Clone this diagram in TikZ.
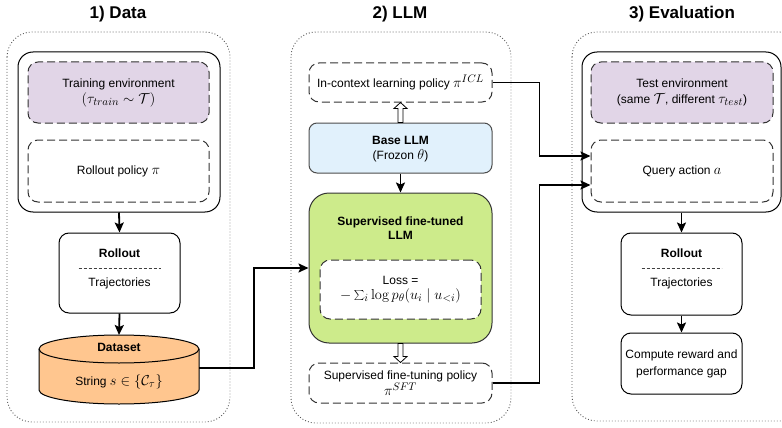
\documentclass[tikz,border=0pt]{standalone}
\usepackage[no-math]{fontspec}
\setmainfont{Liberation Sans}
\DeclareMathSizes{12}{14.4}{10.5}{8}
\usetikzlibrary{arrows.meta,calc}
\definecolor{purp}{HTML}{E1D5E7}
\definecolor{bluef}{HTML}{E1F1FC}
\definecolor{greenf}{HTML}{CDEB8B}
\definecolor{orangef}{HTML}{FFC68F}
\definecolor{dotc}{HTML}{555555}
\tikzset{
  txt/.style={font=\fontsize{12}{15}\selectfont, align=center, inner sep=0pt},
  ttl/.style={font=\fontsize{17}{20}\bfseries, inner sep=0pt},
  outerbox/.style={draw=dotc, line width=0.9pt, dash pattern=on 0.9pt off 2.1pt, rounded corners=25pt},
  dbox/.style={draw=black!80, line width=1pt, dash pattern=on 8pt off 4pt, rounded corners=10pt, inner sep=0pt},
  rbox/.style={draw=black, line width=1pt, rounded corners=10pt, inner sep=0pt, fill=white},
  sep/.style={draw=black!75, line width=0.7pt, dash pattern=on 3pt off 2pt},
  conn/.style={draw=black, line width=1.8pt, -{Stealth[length=10pt,width=9pt,inset=2pt]}},
  hollow/.style={draw=black, line width=0.8pt, fill=white},
}
\begin{document}
\begin{tikzpicture}[x=1pt,y=-1pt]
\useasboundingbox (0,0) rectangle (782,428);

% titles
\node[ttl] (t1) at (118,14) {1) Data};
\node[ttl] (t2) at (400,14) {2) LLM};
\node[ttl] (t3) at (682,14) {3) Evaluation};

% outer dotted containers
\draw[outerbox] (7,32) rectangle (230,422);
\draw[outerbox] (291,32) rectangle (511,423);
\draw[outerbox] (572,32) rectangle (805,421);

% ---------------- Data ----------------
\node[rbox, rounded corners=15pt, minimum width=202pt, minimum height=160pt] (env1) at (119,132) {};
\node[dbox, fill=purp, minimum width=181pt, minimum height=61pt, txt] (train) at (118.5,92.5)
  {Training environment\\[1pt] $(\tau_{train}\sim\mathcal{T})$};
\node[dbox, fill=white, minimum width=181pt, minimum height=62pt, txt] (rpol) at (118.5,171)
  {Rollout policy $\pi$};
\node[rbox, minimum width=121pt, minimum height=80pt] (ro1) at (119.5,273) {};
\node[txt, font=\fontsize{12}{15}\bfseries] (ro1t) at (119.5,253) {Rollout};
\node[txt] (ro1b) at (119.5,283) {Trajectories};
\draw[sep] ([xshift=-41pt,yshift=5pt]ro1.center) -- ([xshift=41pt,yshift=5pt]ro1.center);

% cylinder
\path[fill=orangef, draw=black, line width=1pt] (39,349) -- (39,390)
  arc[start angle=180, end angle=360, x radius=80pt, y radius=14pt] -- (199,349)
  arc[start angle=0, end angle=180, x radius=80pt, y radius=14pt] -- cycle;
\draw[line width=1pt] (39,349) arc[start angle=180, end angle=360, x radius=80pt, y radius=14pt];
\node[inner sep=0pt, minimum width=160pt, minimum height=40pt] (ds) at (119,368) {};
\coordinate (dstop) at (119,335);
\node[txt, font=\fontsize{12}{15}\bfseries] (dst) at (119,347) {Dataset};
\node[txt] (dsb) at (119,382) {String $s\in\{\mathcal{C}_\tau\}$};

\draw[conn] (env1.south) -- (ro1.north);
\draw[conn] (ro1.south) -- (dstop);

% ---------------- LLM ----------------
\node[dbox, fill=white, minimum width=183pt, minimum height=39pt, txt] (icl) at (400.5,82.5)
  {In-context learning policy $\pi^{ICL}$};
\node[rbox, rounded corners=8pt, draw=black!70, fill=bluef, minimum width=183pt, minimum height=50pt] (base) at (400.5,148) {};
\node[txt, font=\fontsize{12}{15}\bfseries] (baset) at (400.5,140) {Base LLM};
\node[txt] (baseb) at (400.5,156) {(Frozon $\theta$)};
\node[rbox, rounded corners=20pt, draw=black!80, fill=greenf, minimum width=183pt, minimum height=150pt] (sft) at (400.5,268) {};
\node[txt, font=\fontsize{12}{14}\bfseries] (sftt) at (400.5,228) {Supervised fine-tuned\\LLM};
\node[dbox, fill=white, minimum width=161pt, minimum height=59pt, txt] (loss) at (400.5,289.5)
  {Loss =\\ $-\sum_i \log p_\theta(u_i \mid u_{<i})$};
\node[dbox, fill=white, minimum width=183pt, minimum height=40pt, txt, font=\fontsize{12}{13}\selectfont] (sftp) at (400.5,383)
  {Supervised fine-tuning policy\\ $\pi^{SFT}$};

\draw[conn] (base.south) -- (sft.north);
% hollow arrows
\draw[hollow] ([xshift=-2.5pt]base.north) -- ([xshift=-2.5pt,yshift=-6pt]icl.south)
  -- ([xshift=-6.5pt,yshift=-6pt]icl.south) -- (icl.south)
  -- ([xshift=6.5pt,yshift=-6pt]icl.south) -- ([xshift=2.5pt,yshift=-6pt]icl.south)
  -- ([xshift=2.5pt]base.north) -- cycle;
\draw[hollow] ([xshift=-2.5pt]sft.south) -- ([xshift=-2.5pt,yshift=6pt]sftp.north)
  -- ([xshift=-6.5pt,yshift=6pt]sftp.north) -- (sftp.north)
  -- ([xshift=6.5pt,yshift=6pt]sftp.north) -- ([xshift=2.5pt,yshift=6pt]sftp.north)
  -- ([xshift=2.5pt]sft.south) -- cycle;

% ---------------- Evaluation ----------------
\node[rbox, rounded corners=15pt, minimum width=199pt, minimum height=160pt] (env2) at (681.5,132) {};
\node[dbox, fill=purp, minimum width=182pt, minimum height=61pt, txt] (test) at (682,92.5)
  {Test environment\\[1pt] (same $\mathcal{T}$, different $\tau_{test}$)};
\node[dbox, fill=white, minimum width=182pt, minimum height=62pt, txt] (query) at (682,171)
  {Query action $a$};
\node[rbox, minimum width=121pt, minimum height=82pt] (ro2) at (681.5,274) {};
\node[txt, font=\fontsize{12}{15}\bfseries] (ro2t) at (681.5,253) {Rollout};
\node[txt] (ro2b) at (681.5,283) {Trajectories};
\draw[sep] ([xshift=-40pt,yshift=6pt]ro2.center) -- ([xshift=40pt,yshift=6pt]ro2.center);
\node[rbox, minimum width=121pt, minimum height=61pt, txt, font=\fontsize{12}{17}\selectfont] (comp) at (681.5,363.5)
  {Compute reward and\\performance gap};

\draw[conn] (env2.south) -- (ro2.north);
\draw[conn] (ro2.south) -- (comp.north);

% ---------------- cross connectors ----------------
\draw[conn] (ds.east) -- ([xshift=55pt]ds.east) |- (sft.west);
\draw[conn] (icl.east) -| ([xshift=-51pt,yshift=15pt]query.west) -- ([yshift=15pt]query.west);
\draw[conn] (sftp.east) -| ([xshift=-51pt,yshift=-14pt]query.west) -- ([yshift=-14pt]query.west);
\end{tikzpicture}
\end{document}
